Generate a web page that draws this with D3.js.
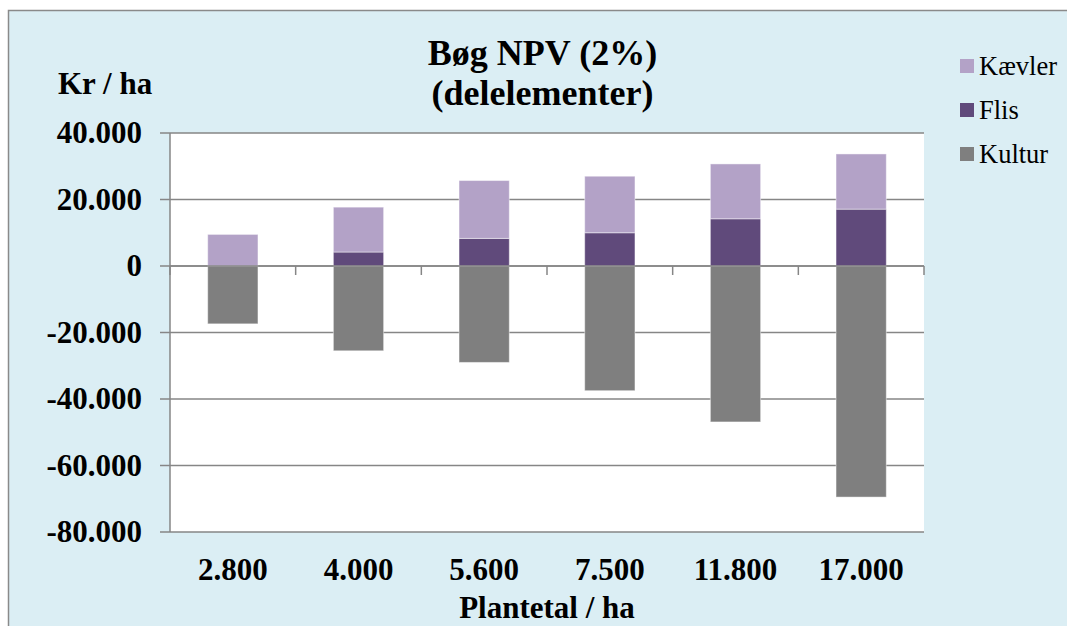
<!DOCTYPE html>
<html>
<head>
<meta charset="utf-8">
<script src="https://cdn.jsdelivr.net/npm/d3@7"></script>
<style>
  html, body { margin: 0; padding: 0; background: #ffffff; }
  svg { display: block; }
  text { font-family: "Liberation Serif", "Times New Roman", "DejaVu Serif", serif; }
</style>
</head>
<body>
<script>
const categories = ["2.800", "4.000", "5.600", "7.500", "11.800", "17.000"];
const kultur  = [-17400, -25500, -29000, -37500, -46900, -69500];
const flis    = [0, 4200, 8300, 10000, 14200, 17100];
const kaevler = [9500, 13500, 17400, 17000, 16500, 16600];
const yTicks  = [40000, 20000, 0, -20000, -40000, -60000, -80000];
const seriesNames = ["Kultur", "Flis", "Kævler"];
const legendOrder = ["Kævler", "Flis", "Kultur"];
const colors = { "Kævler": "#b3a2c7", "Flis": "#604a7b", "Kultur": "#7f7f7f" };

const W = 1067, H = 626;
const plot = { left: 170, right: 924, top: 133, bottom: 532 };
const serif = "'Liberation Serif', 'Times New Roman', 'DejaVu Serif', serif";

const rows = categories.map((c, i) => ({ cat: c, "Kultur": kultur[i], "Flis": flis[i], "Kævler": kaevler[i] }));

const svg = d3.select("body").append("svg").attr("width", W).attr("height", H);

// chart background + frame
svg.append("rect").attr("x", 8.5).attr("y", 10.5).attr("width", W + 10).attr("height", H + 10)
  .attr("fill", "#dbeef4").attr("stroke", "#8a8a8a").attr("stroke-width", 1.5);

// plot area
svg.append("rect").attr("x", plot.left).attr("y", plot.top)
  .attr("width", plot.right - plot.left).attr("height", plot.bottom - plot.top).attr("fill", "#ffffff");

const x = d3.scaleBand().domain(categories).range([plot.left, plot.right])
  .paddingInner(0.6).paddingOuter(0.3);
const y = d3.scaleLinear().domain([-80000, 40000]).range([plot.bottom, plot.top]);

const locale = d3.formatLocale({ decimal: ",", thousands: ".", grouping: [3], currency: ["", " kr"], minus: "-" });
const fmt = locale.format(",");

// gridlines
svg.append("g").selectAll("line").data(yTicks).join("line")
  .attr("x1", plot.left - 10).attr("x2", plot.right)
  .attr("y1", d => y(d)).attr("y2", d => y(d))
  .attr("stroke", "#868686").attr("stroke-width", 1.5);

// bars
const stack = d3.stack().keys(seriesNames).offset(d3.stackOffsetDiverging)(rows);
svg.append("g").selectAll("g").data(stack).join("g")
  .attr("fill", d => colors[d.key])
  .selectAll("rect").data(d => d).join("rect")
  .attr("x", d => x(d.data.cat))
  .attr("width", x.bandwidth())
  .attr("y", d => y(Math.max(d[0], d[1])))
  .attr("height", d => Math.abs(y(d[0]) - y(d[1])))
  .attr("stroke", "#ffffff").attr("stroke-opacity", 0.45).attr("stroke-width", 1);

// left axis line
svg.append("line").attr("x1", plot.left).attr("x2", plot.left)
  .attr("y1", plot.top).attr("y2", plot.bottom)
  .attr("stroke", "#868686").attr("stroke-width", 1.5);

// category axis along zero with ticks
const zeroY = y(0);
svg.append("line").attr("x1", plot.left).attr("x2", plot.right)
  .attr("y1", zeroY).attr("y2", zeroY).attr("stroke", "#868686").attr("stroke-width", 1.5);
const tickXs = d3.range(categories.length + 1).map(i => plot.left + i * x.step());
svg.append("g").selectAll("line").data(tickXs).join("line")
  .attr("x1", d => d).attr("x2", d => d)
  .attr("y1", zeroY).attr("y2", zeroY + 9)
  .attr("stroke", "#868686").attr("stroke-width", 1.5);

// y tick labels
svg.append("g").selectAll("text").data(yTicks).join("text")
  .attr("x", 142).attr("y", d => y(d)).attr("dy", "0.33em")
  .attr("text-anchor", "end").attr("font-family", serif).attr("font-size", 31).attr("font-weight", "bold")
  .attr("fill", "#000").text(d => fmt(d));

// x labels
svg.append("g").selectAll("text").data(categories).join("text")
  .attr("x", d => x(d) + x.bandwidth() / 2).attr("y", 580)
  .attr("text-anchor", "middle").attr("font-family", serif).attr("font-size", 31).attr("font-weight", "bold")
  .attr("fill", "#000").text(d => d);

// axis titles
svg.append("text").attr("x", 58).attr("y", 94).attr("font-family", serif).attr("font-size", 31).attr("font-weight", "bold")
  .text("Kr / ha");
svg.append("text").attr("x", (plot.left + plot.right) / 2).attr("y", 618)
  .attr("text-anchor", "middle").attr("font-family", serif).attr("font-size", 31).attr("font-weight", "bold")
  .text("Plantetal / ha");

// title
const title = svg.append("text").attr("text-anchor", "middle").attr("font-family", serif)
  .attr("font-size", 36).attr("font-weight", "bold");
title.append("tspan").attr("x", 542.5).attr("y", 65).text("Bøg NPV (2%)");
title.append("tspan").attr("x", 542.5).attr("y", 105).text("(delelementer)");

// legend
const lg = svg.append("g").selectAll("g").data(legendOrder).join("g")
  .attr("transform", (d, i) => `translate(960, ${66 + i * 44})`);
lg.append("rect").attr("x", 0).attr("y", -7).attr("width", 14).attr("height", 14)
  .attr("fill", d => colors[d]);
lg.append("text").attr("x", 19).attr("y", 0).attr("dy", "0.33em")
  .attr("font-family", serif).attr("font-weight", "normal")
  .attr("font-size", 26.5).attr("fill", "#000").text(d => d);
</script>
</body>
</html>
